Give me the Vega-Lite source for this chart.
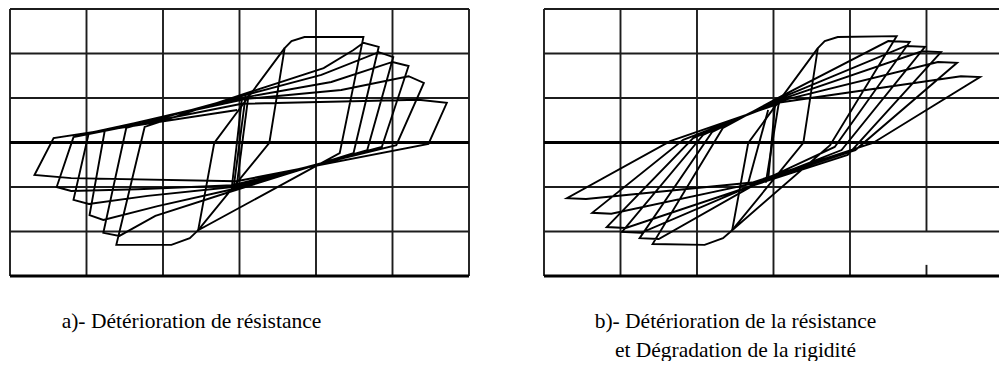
{
  "$schema": "https://vega.github.io/schema/vega-lite/v6.json",
  "background": "white",
  "padding": {"left": 8, "top": 8, "right": 0, "bottom": 0},
  "spacing": 71,
  "config": {
    "view": {"stroke": null},
    "title": {"font": "Liberation Serif", "fontSize": 21.5, "fontWeight": "normal", "color": "#000000", "orient": "bottom", "anchor": "middle", "lineHeight": 29}
  },
  "datasets": {
    "gridA": [
      {"x": -3, "x2": -3, "y": -3, "y2": 3},
      {"x": -2, "x2": -2, "y": -3, "y2": 3},
      {"x": -1, "x2": -1, "y": -3, "y2": 3},
      {"x": 0, "x2": 0, "y": -3, "y2": 3},
      {"x": 1, "x2": 1, "y": -3, "y2": 3},
      {"x": 2, "x2": 2, "y": -3, "y2": 3},
      {"x": 3, "x2": 3, "y": -3, "y2": 3},
      {"x": -3, "x2": 3, "y": 3, "y2": 3},
      {"x": -3, "x2": 3, "y": 2, "y2": 2},
      {"x": -3, "x2": 3, "y": 1, "y2": 1},
      {"x": -3, "x2": 3, "y": -1, "y2": -1},
      {"x": -3, "x2": 3, "y": -2, "y2": -2}
    ],
    "baseA": [
      {"x": -3, "x2": 3, "y": 0, "y2": 0},
      {"x": -3, "x2": 3, "y": -3, "y2": -3}
    ],
    "gridB": [
      {"x": -3, "x2": -3, "y": -3, "y2": 3},
      {"x": -2, "x2": -2, "y": -3, "y2": 3},
      {"x": -1, "x2": -1, "y": -3, "y2": 3},
      {"x": 0, "x2": 0, "y": -3, "y2": 3},
      {"x": 1, "x2": 1, "y": -3, "y2": 3},
      {"x": 2, "x2": 2, "y": -2, "y2": 3},
      {"x": 2, "x2": 2, "y": -3, "y2": -2.75},
      {"x": -3, "x2": 2.948, "y": 3, "y2": 3},
      {"x": -3, "x2": 2.948, "y": 2, "y2": 2},
      {"x": -3, "x2": 2.948, "y": 1, "y2": 1},
      {"x": -3, "x2": 2.948, "y": -1, "y2": -1},
      {"x": -3, "x2": 2.948, "y": -2, "y2": -2}
    ],
    "baseB": [
      {"x": -3, "x2": 2.948, "y": 0, "y2": 0},
      {"x": -3, "x2": 2.948, "y": -3, "y2": -3}
    ],
    "loopA": [
      {"seg": 1, "i": 0, "x": -0.54, "y": -1.97},
      {"seg": 1, "i": 1, "x": 0.39, "y": -0.01},
      {"seg": 1, "i": 2, "x": 0.59, "y": 2.12},
      {"seg": 1, "i": 3, "x": 0.68, "y": 2.28},
      {"seg": 1, "i": 4, "x": 0.85, "y": 2.37},
      {"seg": 1, "i": 5, "x": 1.62, "y": 2.37},
      {"seg": 1, "i": 6, "x": 1.31, "y": -0.24},
      {"seg": 1, "i": 7, "x": -0.54, "y": -1.97},
      {"seg": 1, "i": 8, "x": -0.65, "y": -2.15},
      {"seg": 1, "i": 9, "x": -0.89, "y": -2.30},
      {"seg": 1, "i": 10, "x": -1.61, "y": -2.30},
      {"seg": 1, "i": 11, "x": -1.24, "y": 0.35},
      {"seg": 1, "i": 12, "x": 0.09, "y": 1.11},
      {"seg": 1, "i": 13, "x": 1.10, "y": 1.67},
      {"seg": 1, "i": 14, "x": 1.49, "y": 2.08},
      {"seg": 1, "i": 15, "x": 1.62, "y": 2.24},
      {"seg": 1, "i": 16, "x": 1.82, "y": 2.15},
      {"seg": 1, "i": 17, "x": 1.49, "y": -0.24},
      {"seg": 1, "i": 18, "x": -0.09, "y": -1.09},
      {"seg": 1, "i": 19, "x": -1.10, "y": -1.65},
      {"seg": 1, "i": 20, "x": -1.57, "y": -2.10},
      {"seg": 1, "i": 21, "x": -1.78, "y": -2.03},
      {"seg": 1, "i": 22, "x": -1.48, "y": 0.33},
      {"seg": 1, "i": 23, "x": 0.09, "y": 1.07},
      {"seg": 1, "i": 24, "x": 1.07, "y": 1.52},
      {"seg": 1, "i": 25, "x": 1.82, "y": 2.03},
      {"seg": 1, "i": 26, "x": 2.01, "y": 1.92},
      {"seg": 1, "i": 27, "x": 1.67, "y": -0.17},
      {"seg": 1, "i": 28, "x": -0.09, "y": -1.05},
      {"seg": 1, "i": 29, "x": -1.07, "y": -1.43},
      {"seg": 1, "i": 30, "x": -1.78, "y": -1.74},
      {"seg": 1, "i": 31, "x": -1.96, "y": -1.63},
      {"seg": 1, "i": 32, "x": -1.76, "y": 0.28},
      {"seg": 1, "i": 33, "x": 0.09, "y": 1.02},
      {"seg": 1, "i": 34, "x": 1.20, "y": 1.36},
      {"seg": 1, "i": 35, "x": 2.00, "y": 1.81},
      {"seg": 1, "i": 36, "x": 2.21, "y": 1.72},
      {"seg": 1, "i": 37, "x": 1.86, "y": -0.10},
      {"seg": 1, "i": 38, "x": -0.09, "y": -1.00},
      {"seg": 1, "i": 39, "x": -1.20, "y": -1.20},
      {"seg": 1, "i": 40, "x": -1.97, "y": -1.38},
      {"seg": 1, "i": 41, "x": -2.17, "y": -1.29},
      {"seg": 1, "i": 42, "x": -1.97, "y": 0.21},
      {"seg": 1, "i": 43, "x": 0.09, "y": 0.98},
      {"seg": 1, "i": 44, "x": 1.33, "y": 1.18},
      {"seg": 1, "i": 45, "x": 2.21, "y": 1.49},
      {"seg": 1, "i": 46, "x": 2.41, "y": 1.34},
      {"seg": 1, "i": 47, "x": 2.05, "y": -0.06},
      {"seg": 1, "i": 48, "x": -0.09, "y": -0.96},
      {"seg": 1, "i": 49, "x": -1.33, "y": -1.05},
      {"seg": 1, "i": 50, "x": -2.20, "y": -1.09},
      {"seg": 1, "i": 51, "x": -2.39, "y": -1.00},
      {"seg": 1, "i": 52, "x": -2.17, "y": 0.12},
      {"seg": 1, "i": 53, "x": 0.03, "y": 0.87},
      {"seg": 1, "i": 54, "x": 2.34, "y": 0.96},
      {"seg": 1, "i": 55, "x": 2.71, "y": 0.89},
      {"seg": 1, "i": 56, "x": 2.47, "y": -0.03},
      {"seg": 1, "i": 57, "x": -0.04, "y": -0.87},
      {"seg": 1, "i": 58, "x": -2.20, "y": -0.80},
      {"seg": 1, "i": 59, "x": -2.68, "y": -0.73},
      {"seg": 1, "i": 60, "x": -2.43, "y": 0.10},
      {"seg": 1, "i": 61, "x": -0.03, "y": 0.73},
      {"seg": 2, "i": 0, "x": 0.59, "y": 2.12},
      {"seg": 2, "i": 1, "x": -0.33, "y": -0.01},
      {"seg": 2, "i": 2, "x": -0.54, "y": -1.97},
      {"seg": 3, "i": 0, "x": 0.12, "y": 1.10},
      {"seg": 3, "i": 1, "x": -0.04, "y": -1.02},
      {"seg": 4, "i": 0, "x": 0.08, "y": 1.05},
      {"seg": 4, "i": 1, "x": -0.08, "y": -1.06},
      {"seg": 5, "i": 0, "x": 0.03, "y": 0.95},
      {"seg": 5, "i": 1, "x": -0.10, "y": -1.00}
    ],
    "loopB": [
      {"seg": 1, "i": 0, "x": -0.54, "y": -1.97},
      {"seg": 1, "i": 1, "x": 0.39, "y": -0.01},
      {"seg": 1, "i": 2, "x": 0.58, "y": 2.12},
      {"seg": 1, "i": 3, "x": 0.67, "y": 2.28},
      {"seg": 1, "i": 4, "x": 0.84, "y": 2.37},
      {"seg": 1, "i": 5, "x": 1.61, "y": 2.39},
      {"seg": 1, "i": 6, "x": 0.74, "y": -0.06},
      {"seg": 1, "i": 7, "x": -0.54, "y": -1.97},
      {"seg": 1, "i": 8, "x": -0.66, "y": -2.15},
      {"seg": 1, "i": 9, "x": -0.90, "y": -2.30},
      {"seg": 1, "i": 10, "x": -1.58, "y": -2.28},
      {"seg": 1, "i": 11, "x": -0.66, "y": 0.33},
      {"seg": 1, "i": 12, "x": 0.08, "y": 1.02},
      {"seg": 1, "i": 13, "x": 1.50, "y": 2.28},
      {"seg": 1, "i": 14, "x": 1.78, "y": 2.26},
      {"seg": 1, "i": 15, "x": 0.80, "y": -0.10},
      {"seg": 1, "i": 16, "x": -0.20, "y": -0.90},
      {"seg": 1, "i": 17, "x": -1.50, "y": -2.17},
      {"seg": 1, "i": 18, "x": -1.75, "y": -2.15},
      {"seg": 1, "i": 19, "x": -0.80, "y": 0.24},
      {"seg": 1, "i": 20, "x": 0.08, "y": 0.99},
      {"seg": 1, "i": 21, "x": 1.73, "y": 2.17},
      {"seg": 1, "i": 22, "x": 1.98, "y": 2.15},
      {"seg": 1, "i": 23, "x": 0.89, "y": -0.17},
      {"seg": 1, "i": 24, "x": -0.22, "y": -0.92},
      {"seg": 1, "i": 25, "x": -1.73, "y": -2.03},
      {"seg": 1, "i": 26, "x": -1.98, "y": -2.01},
      {"seg": 1, "i": 27, "x": -0.92, "y": 0.17},
      {"seg": 1, "i": 28, "x": 0.08, "y": 0.96},
      {"seg": 1, "i": 29, "x": 1.94, "y": 2.05},
      {"seg": 1, "i": 30, "x": 2.19, "y": 2.03},
      {"seg": 1, "i": 31, "x": 0.97, "y": -0.28},
      {"seg": 1, "i": 32, "x": -0.24, "y": -0.95},
      {"seg": 1, "i": 33, "x": -1.93, "y": -1.92},
      {"seg": 1, "i": 34, "x": -2.18, "y": -1.90},
      {"seg": 1, "i": 35, "x": -1.05, "y": 0.10},
      {"seg": 1, "i": 36, "x": 0.08, "y": 0.93},
      {"seg": 1, "i": 37, "x": 2.15, "y": 1.81},
      {"seg": 1, "i": 38, "x": 2.40, "y": 1.79},
      {"seg": 1, "i": 39, "x": 1.07, "y": -0.17},
      {"seg": 1, "i": 40, "x": -0.26, "y": -0.92},
      {"seg": 1, "i": 41, "x": -2.12, "y": -1.60},
      {"seg": 1, "i": 42, "x": -2.37, "y": -1.58},
      {"seg": 1, "i": 43, "x": -1.18, "y": 0.06},
      {"seg": 1, "i": 44, "x": 0.08, "y": 0.90},
      {"seg": 1, "i": 45, "x": 2.45, "y": 1.49},
      {"seg": 1, "i": 46, "x": 2.70, "y": 1.47},
      {"seg": 1, "i": 47, "x": 1.30, "y": -0.01},
      {"seg": 1, "i": 48, "x": -0.28, "y": -0.90},
      {"seg": 1, "i": 49, "x": -2.45, "y": -1.27},
      {"seg": 1, "i": 50, "x": -2.70, "y": -1.25},
      {"seg": 1, "i": 51, "x": -1.35, "y": 0.03},
      {"seg": 1, "i": 52, "x": 0.08, "y": 0.88},
      {"seg": 2, "i": 0, "x": 0.58, "y": 2.12},
      {"seg": 2, "i": 1, "x": -0.33, "y": -0.01},
      {"seg": 2, "i": 2, "x": -0.54, "y": -1.97},
      {"seg": 3, "i": 0, "x": 0.02, "y": 0.85},
      {"seg": 3, "i": 1, "x": -0.07, "y": -0.85},
      {"seg": 4, "i": 0, "x": 0.08, "y": 1.00},
      {"seg": 4, "i": 1, "x": -0.10, "y": -0.90},
      {"seg": 5, "i": 0, "x": -0.07, "y": 0.73},
      {"seg": 5, "i": 1, "x": -0.33, "y": -0.91}
    ]
  },
  "hconcat": [
    {
      "width": 459,
      "height": 267,
      "title": {"text": "a)- Détérioration de résistance", "dx": -48, "offset": 33},
      "layer": [
        {
          "data": {"name": "gridA"},
          "mark": {"type": "rule", "stroke": "#1c1c1c", "strokeWidth": 1.9},
          "encoding": {
            "x": {"field": "x", "type": "quantitative", "scale": {"domain": [-3, 3], "nice": false, "zero": false}, "axis": null},
            "x2": {"field": "x2"},
            "y": {"field": "y", "type": "quantitative", "scale": {"domain": [-3, 3], "nice": false, "zero": false}, "axis": null},
            "y2": {"field": "y2"}
          }
        },
        {
          "data": {"name": "baseA"},
          "mark": {"type": "rule", "stroke": "#000000", "strokeWidth": 3},
          "encoding": {
            "x": {"field": "x", "type": "quantitative", "scale": {"domain": [-3, 3], "nice": false, "zero": false}, "axis": null},
            "x2": {"field": "x2"},
            "y": {"field": "y", "type": "quantitative", "scale": {"domain": [-3, 3], "nice": false, "zero": false}, "axis": null},
            "y2": {"field": "y2"}
          }
        },
        {
          "data": {"name": "loopA"},
          "mark": {"type": "line", "stroke": "#000000", "strokeWidth": 1.9},
          "encoding": {
            "x": {"field": "x", "type": "quantitative", "scale": {"domain": [-3, 3], "nice": false, "zero": false}, "axis": null},
            "y": {"field": "y", "type": "quantitative", "scale": {"domain": [-3, 3], "nice": false, "zero": false}, "axis": null},
            "detail": {"field": "seg", "type": "nominal"},
            "order": {"field": "i", "type": "quantitative"}
          }
        }
      ]
    },
    {
      "width": 455,
      "height": 267,
      "title": {"text": ["b)- Détérioration de la résistance", "et Dégradation de la rigidité"], "dx": -36, "offset": 33},
      "layer": [
        {
          "data": {"name": "gridB"},
          "mark": {"type": "rule", "stroke": "#1c1c1c", "strokeWidth": 1.9},
          "encoding": {
            "x": {"field": "x", "type": "quantitative", "scale": {"domain": [-3, 2.948], "nice": false, "zero": false}, "axis": null},
            "x2": {"field": "x2"},
            "y": {"field": "y", "type": "quantitative", "scale": {"domain": [-3, 3], "nice": false, "zero": false}, "axis": null},
            "y2": {"field": "y2"}
          }
        },
        {
          "data": {"name": "baseB"},
          "mark": {"type": "rule", "stroke": "#000000", "strokeWidth": 3},
          "encoding": {
            "x": {"field": "x", "type": "quantitative", "scale": {"domain": [-3, 2.948], "nice": false, "zero": false}, "axis": null},
            "x2": {"field": "x2"},
            "y": {"field": "y", "type": "quantitative", "scale": {"domain": [-3, 3], "nice": false, "zero": false}, "axis": null},
            "y2": {"field": "y2"}
          }
        },
        {
          "data": {"name": "loopB"},
          "mark": {"type": "line", "stroke": "#000000", "strokeWidth": 1.9},
          "encoding": {
            "x": {"field": "x", "type": "quantitative", "scale": {"domain": [-3, 2.948], "nice": false, "zero": false}, "axis": null},
            "y": {"field": "y", "type": "quantitative", "scale": {"domain": [-3, 3], "nice": false, "zero": false}, "axis": null},
            "detail": {"field": "seg", "type": "nominal"},
            "order": {"field": "i", "type": "quantitative"}
          }
        }
      ]
    }
  ]
}
